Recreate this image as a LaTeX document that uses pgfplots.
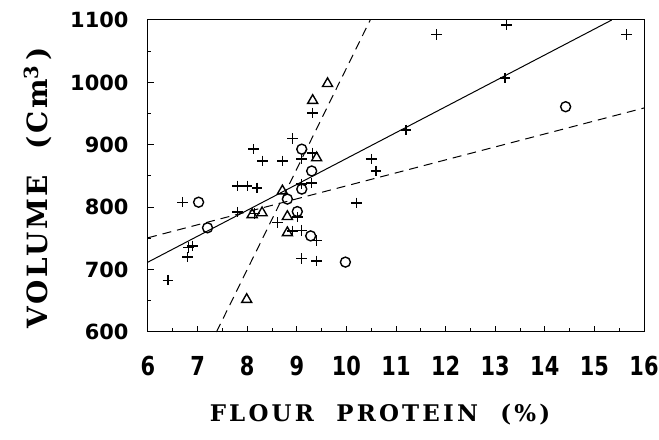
\documentclass[border=0pt]{standalone}
\usepackage{pgfplots}
\pgfplotsset{compat=1.18}
\usepackage{fontspec}
\setmainfont{DejaVu Serif}
\newfontfamily\tickfont{DejaVu Sans}
\newfontfamily\labfont[LetterSpace=14]{DejaVu Serif}
\newfontfamily\ylabfont[LetterSpace=10]{DejaVu Serif}
\begin{document}
\begin{tikzpicture}
\begin{axis}[
  scale only axis, width=496bp, height=312bp,
  xmin=6, xmax=16, ymin=600, ymax=1100,
  xtick={6,...,16}, ytick={600,700,...,1100},
  minor x tick num=1, minor y tick num=1,
  tick align=inside, xtick pos=bottom, ytick pos=left,
  major tick length=6bp, minor tick length=3.5bp,
  tick style={black, line width=1pt},
  axis line style={line width=1pt},
  /pgf/number format/assume math mode=true,
  /pgf/number format/1000 sep={},
  ticklabel style={font=\tickfont\bfseries\fontsize{21}{21}\selectfont},
  xticklabel style={yshift=-20bp, yscale=1.25},
  yticklabel style={xshift=-16bp},
  xlabel={\labfont\bfseries\fontsize{23}{23}\selectfont FLOUR\ \ PROTEIN\ \ (\%)},
  ylabel={\ylabfont\bfseries\fontsize{28}{28}\selectfont VOLUME\ \ (Cm$^{\mathbf{3}}$\,)},
  xlabel style={yshift=-20bp, xshift=-16bp},
  ylabel style={yshift=12bp, xshift=-12bp},
  clip=false,
]
\addplot[only marks, mark=+, mark size=5.3bp, line width=1.4pt] coordinates {
(6.4,683) (6.7,808) (6.82,735) (6.9,738) (6.8,720) (7.81,834) (8.0,834) (8.2,831)
(7.81,792) (8.15,790) (8.13,893) (8.31,874) (8.71,874) (8.91,910) (9.1,877) (9.32,887)
(9.32,951) (9.1,837) (9.3,839) (8.61,775) (9.01,784) (8.91,762) (9.1,763) (9.4,747)
(9.1,718) (9.4,714) (10.2,807) (10.5,877) (10.6,858) (11.2,924) (11.82,1077)
(13.23,1092) (13.2,1007) (15.65,1077)
};
\addplot[only marks, mark=o, mark size=5bp, line width=1.4pt] coordinates {
(7.02,808) (7.2,767) (9.1,893) (9.3,858) (9.1,829) (8.81,813) (9.01,793) (9.28,754)
(9.98,712) (14.42,961)
};
\addplot[only marks, mark=triangle, mark size=5.8bp, line width=1.4pt] coordinates {
(7.99,652) (8.1,788) (8.3,791) (8.71,826) (8.81,785) (8.81,759) (9.4,879) (9.32,971) (9.62,998)
};
\addplot[black, line width=1pt] coordinates {(6,712) (15.35,1100)};
\addplot[black, line width=1pt, dash pattern=on 9bp off 6bp] coordinates {(6,751) (16,959)};
\addplot[black, line width=1pt, dash pattern=on 9bp off 6bp] coordinates {(7.38,600) (10.48,1100)};
\end{axis}
\pgfresetboundingbox
\path[use as bounding box] (current axis.south west)++(-148bp,-108bp) rectangle ([xshift=15bp,yshift=20bp]current axis.north east);
\end{tikzpicture}
\end{document}
